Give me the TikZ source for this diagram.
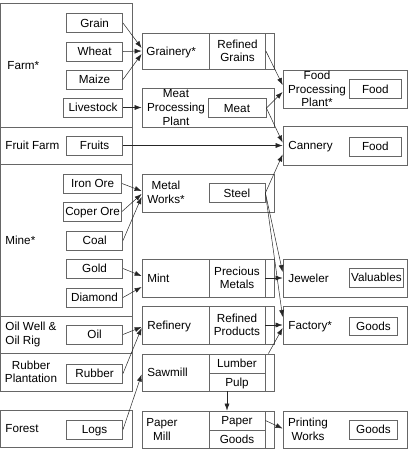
\documentclass[tikz,border=0pt]{standalone}
\usepackage{fontspec}
\setmainfont{Liberation Sans}
\usetikzlibrary{calc,arrows.meta}
\tikzset{
every picture/.style={
line width=0.8pt
},
box/.style={draw=black!60, inner sep=0pt},
one/.style={text height=8.4pt, text depth=0pt},
prod/.style={box, one, minimum width=56pt, minimum height=19pt},
cell/.style={box, align=center, minimum width=56pt},
plant/.style={box, minimum width=132pt},
site/.style={box, minimum width=124.5pt},
lbl/.style={inner sep=0pt, align=center},
arr/.style={-{Latex[length=7pt,width=5pt]}, line width=0.5pt, black!85}
}

\begin{document}
\begin{tikzpicture}[x=1pt, y=-1pt, font=\fontsize{11.7pt}{13.6pt}\selectfont]
  \useasboundingbox (0,0) rectangle (408,456);

  % sources
  \draw[draw=black!60] (0.5,3) rectangle (132,391);
  \foreach \y in {127,164,316,353}{
    \draw[draw=black!60] (0.5,\y) -- (132,\y);
  }
  \draw[draw=black!60] (0.5,410) rectangle (132,447);

  \node[lbl, one, anchor=west] (farml) at (7,65) {Farm*};
  \node[lbl, one, anchor=west] (fruitfarml) at (5,145.5) {Fruit Farm};
  \node[lbl, one, anchor=west] (minel) at (5,240) {Mine*};
  \node[lbl, align=left, anchor=west] (oilwelll) at (5,334.5) {Oil Well \&\\Oil Rig};
  \node[lbl] (rubberpl) at (31,372) {Rubber\\Plantation};
  \node[lbl, one, anchor=west] (forestl) at (5,428.5) {Forest};

  \foreach \n/\t/\y in {grain/Grain/23, wheat/Wheat/51.5, maize/Maize/79.5, fruits/Fruits/145.5,
    coal/Coal/240.5, gold/Gold/268.5, diamond/Diamond/297.5, oil/Oil/334.5, rubber/Rubber/373.5, logs/Logs/429.5}{
    \node[prod, anchor=east] (\n) at (123,\y) {\t};
  }
  \node[prod, anchor=east, minimum width=59pt] (livestock) at (123,107.5) {Livestock};
  \node[prod, anchor=east, minimum width=58pt] (ironore) at (122,183.5) {Iron Ore};
  \node[prod, anchor=east, minimum width=58pt] (coperore) at (122,211.5) {Coper Ore};

  % processing
  \node[plant, minimum height=36pt] (grainery) at (208,51) {};
  \node[lbl, one, anchor=west] (grainl) at (146,51) {Grainery*};
  \node[cell, minimum height=36pt] (refgrains) at (237.5,51) {Refined\\Grains};

  \node[plant, minimum height=39pt] (meatplant) at (208,107.5) {};
  \node[lbl] (meatl) at (176,107.5) {Meat\\Processing\\Plant};
  \node[prod, minimum width=58pt] (meat) at (237,108) {Meat};

  \node[plant, minimum height=38pt] (metalworks) at (208,193) {};
  \node[lbl] (metall) at (166,192.5) {Metal\\Works*};
  \node[prod] (steel) at (237,193) {Steel};

  \node[plant, minimum height=38pt] (mint) at (208,278) {};
  \node[lbl, one, anchor=west] (mintl) at (147,278) {Mint};
  \node[cell, minimum height=38pt] (precious) at (237,278) {Precious\\Metals};

  \node[plant, minimum height=38pt] (refinery) at (208,325) {};
  \node[lbl, one, anchor=west] (refineryl) at (147,325) {Refinery};
  \node[cell, minimum height=38pt] (refprod) at (237,325) {Refined\\Products};

  \node[plant, minimum height=37pt] (sawmill) at (208,372.5) {};
  \node[lbl, one, anchor=west] (sawmilll) at (147,372.5) {Sawmill};
  \node[prod] (lumber) at (237,363.5) {Lumber};
  \node[prod, minimum height=18pt] (pulp) at (237,382) {Pulp};

  \node[plant, minimum height=37pt] (papermill) at (208,429.5) {};
  \node[lbl] (paperl) at (162,429.5) {Paper\\Mill};
  \node[prod] (paper) at (237,420.5) {Paper};
  \node[prod, minimum height=18pt] (papergoods) at (237,439) {Goods};

  % end products
  \node[site, minimum height=38pt] (foodplant) at (345.25,89) {};
  \node[lbl] (foodplantl) at (317,89) {Food\\Processing\\Plant*};
  \node[prod, anchor=west, minimum width=52pt] (food) at (349,89) {Food};

  \node[site, minimum height=39pt] (cannery) at (345.25,145.5) {};
  \node[lbl, one, anchor=west] (canneryl) at (288,145.5) {Cannery};
  \node[prod, anchor=west, minimum width=52pt] (cannedfood) at (349,146.5) {Food};

  \node[site, minimum height=38pt] (jeweler) at (345.25,278) {};
  \node[lbl, one, anchor=west] (jewelerl) at (288,278) {Jeweler};
  \node[prod, anchor=west, minimum width=54pt] (valuables) at (349,277.5) {Valuables};

  \node[site, minimum height=38pt] (factory) at (345.25,325) {};
  \node[lbl, one, anchor=west] (factoryl) at (288,325) {Factory*};
  \node[prod, anchor=west, minimum width=48pt, minimum height=18pt] (goods) at (349,326) {Goods};

  \node[site, minimum height=37pt] (printing) at (345.25,429.5) {};
  \node[lbl] (printingl) at (308,429.5) {Printing\\Works};
  \node[prod, anchor=west, minimum width=48pt] (printgoods) at (349,429.5) {Goods};

  % flows
  \draw[arr] (grain.east) -- ($(grainery.west)+(0,-3)$);
  \draw[arr] (wheat.east) -- (grainery.west);
  \draw[arr] (maize.east) -- ($(grainery.west)+(0,3)$);
  \draw[arr] (livestock.east) -- (meatplant.west);
  \draw[arr] (refgrains.east) -- ($(foodplant.west)+(0,-4)$);
  \draw[arr] (meat.east) -- ($(foodplant.west)+(0,3)$);
  \draw[arr] (meat.east) -- ($(cannery.west)+(0,-3)$);
  \draw[arr] (fruits.east) -- (cannery.west);
  \draw[arr] (ironore.east) -- ($(metalworks.west)+(0,-2)$);
  \draw[arr] (coperore.east) -- ($(metalworks.west)+(0,1)$);
  \draw[arr] (coal.east) -- ($(metalworks.west)+(0,4)$);
  \draw[arr] (steel.east) -- ($(cannery.west)+(0,9)$);
  \draw[arr] (steel.east) -- ($(jeweler.west)+(0,-6)$);
  \draw[arr] (steel.east) -- ($(factory.west)+(0,-8)$);
  \draw[arr] (gold.east) -- ($(mint.west)+(0,-2)$);
  \draw[arr] (diamond.east) -- ($(mint.west)+(0,9)$);
  \draw[arr] (precious.east) -- (jeweler.west);
  \draw[arr] (oil.east) -- ($(refinery.west)+(0,2)$);
  \draw[arr] (rubber.east) -- ($(refinery.west)+(0,3)$);
  \draw[arr] (refprod.east) -- (factory.west);
  \draw[arr] ($(lumber.north east)+(3,0)$) -- ($(factory.west)+(0,3)$);
  \draw[arr] (logs.east) -- ($(sawmill.west)+(0,2)$);
  \draw[arr] ($(pulp.south)+(-10,0)$) -- ($(paper.north)+(-10,0)$);
  \draw[arr] (paper.east) -- ($(printing.west)+(0,-1)$);
\end{tikzpicture}
\end{document}
